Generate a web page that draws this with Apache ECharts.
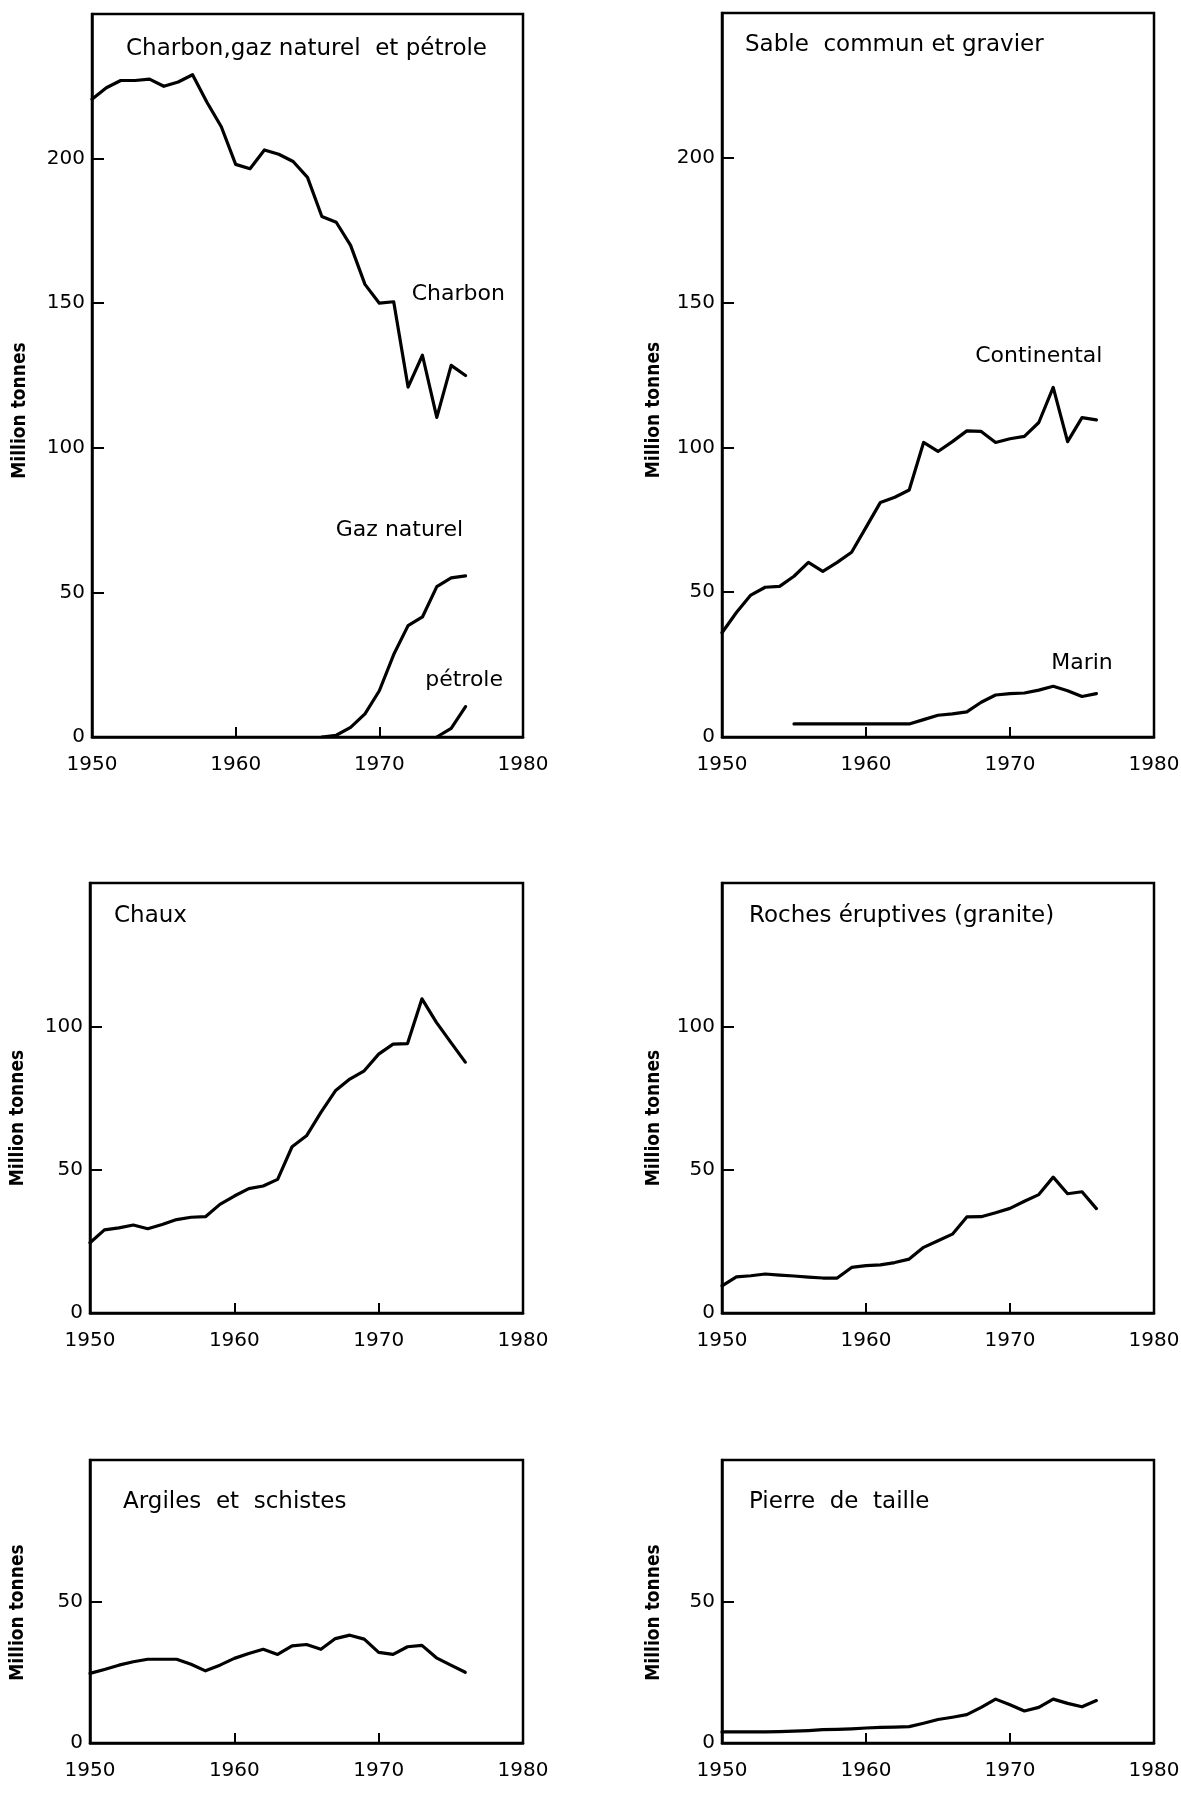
<!DOCTYPE html>
<html>
<head>
<meta charset="utf-8">
<script src="https://cdn.jsdelivr.net/npm/echarts@6/dist/echarts.min.js"></script>
<style>
html,body{margin:0;padding:0;background:#fff;}
#c{width:1181px;height:1793px;}
</style>
</head>
<body>
<div id="c"></div>
<script>
// ---------- DATA ----------
const years = [1950,1951,1952,1953,1954,1955,1956,1957,1958,1959,1960,1961,1962,1963,1964,1965,1966,1967,1968,1969,1970,1971,1972,1973,1974,1975,1976];
const xTicks = [1950, 1960, 1970, 1980];

const charbon = [220.5,224.5,227,227,227.5,225,226.5,229,219.5,211,198,196.5,203,201.5,199,193.5,180,178,170,156.5,150,150.5,121,132,110.5,128.5,125];
const gazYears = [1966,1967,1968,1969,1970,1971,1972,1973,1974,1975,1976];
const gaz = [0,0.6,3.3,8,16,28.5,38.5,41.5,52,55,55.7];
const petroleYears = [1974,1975,1976];
const petrole = [0,3,10.5];

const continental = [36,43,49,51.7,52,55.5,60.3,57.2,60.3,63.8,72.4,81,82.8,85.3,101.7,98.6,102,105.7,105.5,101.7,103,103.8,108.6,120.7,102,110.3,109.5];
const marinYears = [1955,1956,1957,1958,1959,1960,1961,1962,1963,1964,1965,1966,1967,1968,1969,1970,1971,1972,1973,1974,1975,1976];
const marin = [4.5,4.5,4.5,4.5,4.5,4.5,4.5,4.5,4.5,6,7.5,8,8.7,12,14.5,15,15.2,16.2,17.5,16,14,15];

const chaux = [24.5,29,29.7,30.7,29.4,30.9,32.6,33.4,33.6,37.9,40.8,43.4,44.3,46.6,58,61.8,70,77.5,81.6,84.5,90.3,93.8,94,109.6,101.4,94.4,87.5];
const roches = [9.5,12.6,13,13.6,13.2,12.9,12.5,12.2,12.2,15.9,16.5,16.8,17.6,18.8,22.9,25.2,27.5,33.5,33.6,35,36.5,39,41.3,47.4,41.6,42.3,36.4];
const argiles = [24.6,26,27.5,28.7,29.6,29.6,29.6,27.8,25.5,27.5,29.9,31.6,33.1,31.3,34.3,34.8,33.1,36.9,38.1,36.7,32,31.3,34,34.5,30.1,27.5,25];
const pierre = [3.9,3.9,3.9,3.9,4,4.2,4.4,4.7,4.8,5,5.3,5.5,5.6,5.8,7,8.3,9.1,10,12.6,15.5,13.5,11.3,12.6,15.5,14,12.8,15];

const panelTitles = ["Charbon,gaz naturel  et pétrole", "Sable  commun et gravier", "Chaux", "Roches éruptives (granite)", "Argiles  et  schistes", "Pierre  de  taille"];
const yMax = [250, 250, 150, 150, 100, 100];
const yName = "Million tonnes";

// ---------- LAYOUT ----------
const FONT = "DejaVu Sans";
const grids = [
  {left: 92, top: 14, width: 431, height: 723},
  {left: 722, top: 13, width: 432, height: 724},
  {left: 90, top: 883, width: 433, height: 430},
  {left: 722, top: 883, width: 432, height: 430},
  {left: 90, top: 1460, width: 433, height: 283},
  {left: 722, top: 1460, width: 432, height: 283}
];
const titlePos = [[126, 38], [745, 34], [114, 905], [749, 905], [123, 1491], [749, 1491]];
const nameShift = [70, 70, 40, 40, 22, 22];
const nameGaps = [62, 58, 62, 58, 62, 58];

function pairs(xs, ys){ return xs.map((x,i)=>[x, ys[i]]); }

const option = {
  animation: false,
  backgroundColor: '#fff',
  title: panelTitles.map((t,i)=>({
    text: t, left: titlePos[i][0], top: titlePos[i][1], padding: 0,
    textStyle: {fontFamily: FONT, fontSize: 23, fontWeight: 'normal', color: '#000'}
  })),
  grid: grids.map(g=>Object.assign({
    show: true, borderColor: '#000', borderWidth: 2.5, backgroundColor: 'transparent',
    containLabel: false, outerBoundsMode: 'none'
  }, g)),
  xAxis: grids.map((g,i)=>({
    type: 'value', gridIndex: i, min: 1950, max: 1980, interval: 10,
    axisLine: {show: true, lineStyle: {color: '#000', width: 2.5}},
    axisTick: {show: true, inside: true, length: 10, lineStyle: {color: '#000', width: 2}},
    axisLabel: {show: true, margin: 18, color: '#000', fontFamily: FONT, fontSize: 20,
      formatter: v => xTicks.includes(v) ? String(v) : ''},
    splitLine: {show: false}
  })),
  yAxis: grids.map((g,i)=>({
    type: 'value', gridIndex: i, min: 0, max: yMax[i], interval: 50,
    name: yName, nameLocation: 'middle', nameGap: nameGaps[i], nameRotate: 90,
    nameTextStyle: {fontFamily: "DejaVu Sans Condensed", fontWeight: 'bold', fontSize: 19, color: '#000',
      padding: [0, nameShift[i], 0, 0]},
    axisLine: {show: true, lineStyle: {color: '#000', width: 2.5}},
    axisTick: {show: true, inside: true, length: 12, lineStyle: {color: '#000', width: 2}},
    axisLabel: {show: true, margin: 7, color: '#000', fontFamily: FONT, fontSize: 20, showMaxLabel: false},
    splitLine: {show: false}
  })),
  series: []
};

function lineSeries(idx, name, data, labels){
  const s = {
    type: 'line', name: name, xAxisIndex: idx, yAxisIndex: idx, data: data,
    showSymbol: false, symbol: 'none', smooth: false, silent: true,
    lineStyle: {color: '#000', width: 3.2, join: 'round', cap: 'round'}
  };
  if (labels) {
    s.markPoint = {
      symbol: 'rect', symbolSize: 0, silent: true,
      label: {show: true, position: 'inside', color: '#000', fontFamily: FONT, fontSize: 22},
      data: labels.map(l=>({coord: l.at, value: l.text, label: {formatter: l.text}}))
    };
  }
  return s;
}

option.series.push(lineSeries(0, 'Charbon', pairs(years, charbon), [{text: 'Charbon', at: [1975.5, 153]}]));
option.series.push(lineSeries(0, 'Gaz naturel', pairs(gazYears, gaz), [{text: 'Gaz naturel', at: [1971.4, 71.5]}]));
option.series.push(lineSeries(0, 'pétrole', pairs(petroleYears, petrole), [{text: 'pétrole', at: [1975.9, 19.5]}]));
option.series.push(lineSeries(1, 'Continental', pairs(years, continental), [{text: 'Continental', at: [1972.0, 131.5]}]));
option.series.push(lineSeries(1, 'Marin', pairs(marinYears, marin), [{text: 'Marin', at: [1975.0, 25.5]}]));
option.series.push(lineSeries(2, 'Chaux', pairs(years, chaux)));
option.series.push(lineSeries(3, 'Roches éruptives', pairs(years, roches)));
option.series.push(lineSeries(4, 'Argiles et schistes', pairs(years, argiles)));
option.series.push(lineSeries(5, 'Pierre de taille', pairs(years, pierre)));

const chart = echarts.init(document.getElementById('c'), null, {renderer: 'canvas'});
chart.setOption(option);
</script>
</body>
</html>
